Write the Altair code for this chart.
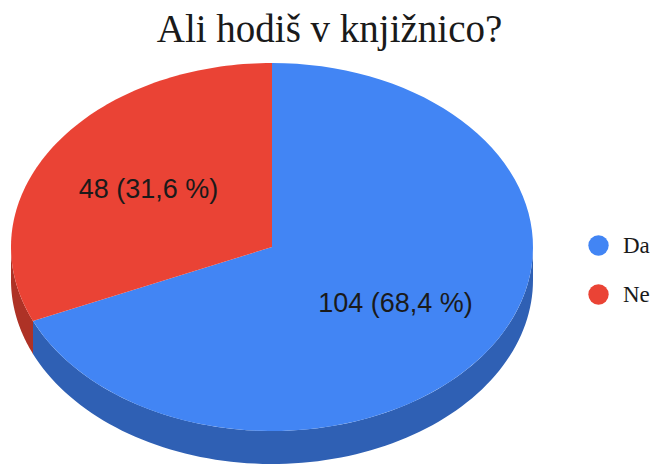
import altair as alt
import pandas as pd

# ---- data ----
categories = ["Da", "Ne"]
counts = [104, 48]
top_colors = ["#4285f4", "#ea4335"]
side_colors = ["#2f60b4", "#ae3226"]
title_text = "Ali hodiš v knjižnico?"

df = pd.DataFrame({"answer": categories, "count": counts})

# ---- layout of the tilted pie (page pixels) ----
CX, CY, RX, RY, DEPTH = 272, 247, 261, 184, 33
N = 90
LABEL_F = 0.565
W, H, TOP = 643, 406, 52

base = alt.Chart(df).transform_joinaggregate(
    total="sum(count)"
).transform_window(
    cum="sum(count)", frame=[None, 0]
).transform_calculate(
    start="(datum.cum - datum.count) / datum.total * 2 * PI",
    end="datum.cum / datum.total * 2 * PI",
)

xenc = alt.X("px:Q", scale=alt.Scale(domain=[8, 8 + W], nice=False, zero=False), axis=None)
yenc = alt.Y("py:Q", scale=alt.Scale(domain=[60, 60 + H], nice=False, zero=False, reverse=True), axis=None)

# side walls (visible front half)
side = base.transform_calculate(
    a="max(datum.start, PI / 2)",
    b="min(datum.end, 3 * PI / 2)",
).transform_filter("datum.a < datum.b").transform_calculate(
    i=f"sequence(0, {2 * N + 2})"
).transform_flatten(["i"]).transform_calculate(
    ang=f"datum.i <= {N} ? datum.a + (datum.b - datum.a) * datum.i / {N} : datum.b - (datum.b - datum.a) * (datum.i - {N} - 1) / {N}",
    dy=f"datum.i <= {N} ? 0 : {DEPTH}",
).transform_calculate(
    px=f"{CX} + {RX} * sin(datum.ang)",
    py=f"{CY} - {RY} * cos(datum.ang) + datum.dy",
).mark_line(filled=True, strokeWidth=0).encode(
    x=xenc, y=yenc,
    color=alt.Color("answer:N", scale=alt.Scale(domain=categories, range=side_colors), legend=None),
    order=alt.Order("i:Q"),
)

# top faces
top = base.transform_calculate(
    i=f"sequence(0, {N + 2})"
).transform_flatten(["i"]).transform_calculate(
    ang=f"datum.start + (datum.end - datum.start) * (datum.i - 1) / {N}",
).transform_calculate(
    px=f"datum.i == 0 ? {CX} : {CX} + {RX} * sin(datum.ang)",
    py=f"datum.i == 0 ? {CY} : {CY} - {RY} * cos(datum.ang)",
).mark_line(filled=True, strokeWidth=0).encode(
    x=xenc, y=yenc,
    color=alt.Color(
        "answer:N",
        scale=alt.Scale(domain=categories, range=top_colors),
        legend=alt.Legend(
            title=None, orient="none", legendX=579, legendY=174,
            symbolType="circle", symbolSize=415, symbolStrokeWidth=0,
            labelFont="Liberation Serif", labelFontSize=23, labelColor="#1a1a1a",
            labelOffset=13, rowPadding=25, padding=0,
        ),
    ),
    order=alt.Order("i:Q"),
)

labels = base.transform_calculate(
    mid="(datum.start + datum.end) / 2",
    pct="datum.count / datum.total * 100",
).transform_calculate(
    px=f"{CX} + {RX} * {LABEL_F} * sin(datum.mid)",
    py=f"{CY} - {RY} * {LABEL_F} * cos(datum.mid)",
    label="datum.count + ' (' + replace(format(datum.pct, '.1f'), '.', ',') + ' %)'",
).mark_text(font="Liberation Sans", fontSize=27, color="#1a1a1a", baseline="middle", align="center").encode(
    x=xenc, y=yenc, text="label:N"
)

chart = alt.layer(side, top, labels).resolve_scale(color="independent").properties(
    width=W, height=H,
    autosize=alt.AutoSizeParams(type="none"),
    padding={"left": 0, "top": TOP, "right": 0, "bottom": 0},
    title=alt.TitleParams(
        title_text, font="Liberation Serif", fontSize=39, fontWeight="normal",
        color="#1a1a1a", anchor="middle", baseline="top", offset=10,
    ),
).configure_view(stroke=None)

chart.save("out.html", embed_options={"renderer": "svg", "actions": False})
